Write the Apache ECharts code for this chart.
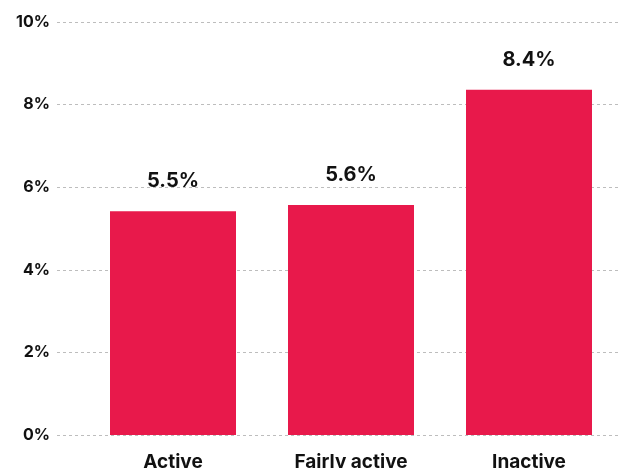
<!DOCTYPE html>
<html>
<head>
<meta charset="utf-8">
<script src="https://cdn.jsdelivr.net/npm/echarts@6/dist/echarts.min.js"></script>
<style>
  html, body { margin: 0; padding: 0; background: #fff; }
  #chart { width: 618px; height: 468px; }
</style>
</head>
<body>
<div id="chart"></div>
<script>
const categories = ["Active", "Fairly active", "Inactive"];
const values = [5.42, 5.57, 8.36];
const valueLabels = ["5.5%", "5.6%", "8.4%"];
const yTicks = [0, 2, 4, 6, 8, 10];

const chart = echarts.init(document.getElementById("chart"));
const font = "Inter, 'Noto Sans', sans-serif";

const option = {
  animation: false,
  grid: [
    // bars
    { left: 84, right: 0, top: 22, bottom: 33, outerBoundsMode: "none" },
    // grid lines + y labels (reach further left than the bars)
    { left: 57, right: 0, top: 22, bottom: 33, outerBoundsMode: "none" }
  ],
  xAxis: [
    {
      type: "category",
      gridIndex: 0,
      data: categories,
      axisLine: { show: false },
      axisTick: { show: false },
      axisLabel: {
        margin: 18,
        color: "#111",
        fontFamily: font,
        fontWeight: 700,
        fontSize: 19
      }
    },
    { type: "value", gridIndex: 1, show: false, min: 0, max: 1 }
  ],
  yAxis: [
    { type: "value", gridIndex: 0, min: 0, max: 10, interval: 2, show: false },
    {
      type: "value",
      gridIndex: 1,
      min: yTicks[0],
      max: yTicks[yTicks.length - 1],
      interval: 2,
      axisLine: { show: false },
      axisTick: { show: false },
      axisLabel: {
        margin: 7,
        color: "#111",
        fontFamily: font,
        fontWeight: 700,
        fontSize: 16,
        formatter: "{value}%"
      },
      splitLine: {
        lineStyle: { color: "#bdbdbd", type: [3, 3], width: 1 }
      }
    }
  ],
  series: [
    {
      type: "bar",
      xAxisIndex: 0,
      yAxisIndex: 0,
      data: values,
      barWidth: 126,
      itemStyle: { color: "#E8194B" },
      label: {
        show: true,
        position: "top",
        distance: 20,
        color: "#111",
        fontFamily: font,
        fontWeight: 700,
        fontSize: 20,
        formatter: (p) => valueLabels[p.dataIndex]
      }
    }
  ]
};

chart.setOption(option);
</script>
</body>
</html>
